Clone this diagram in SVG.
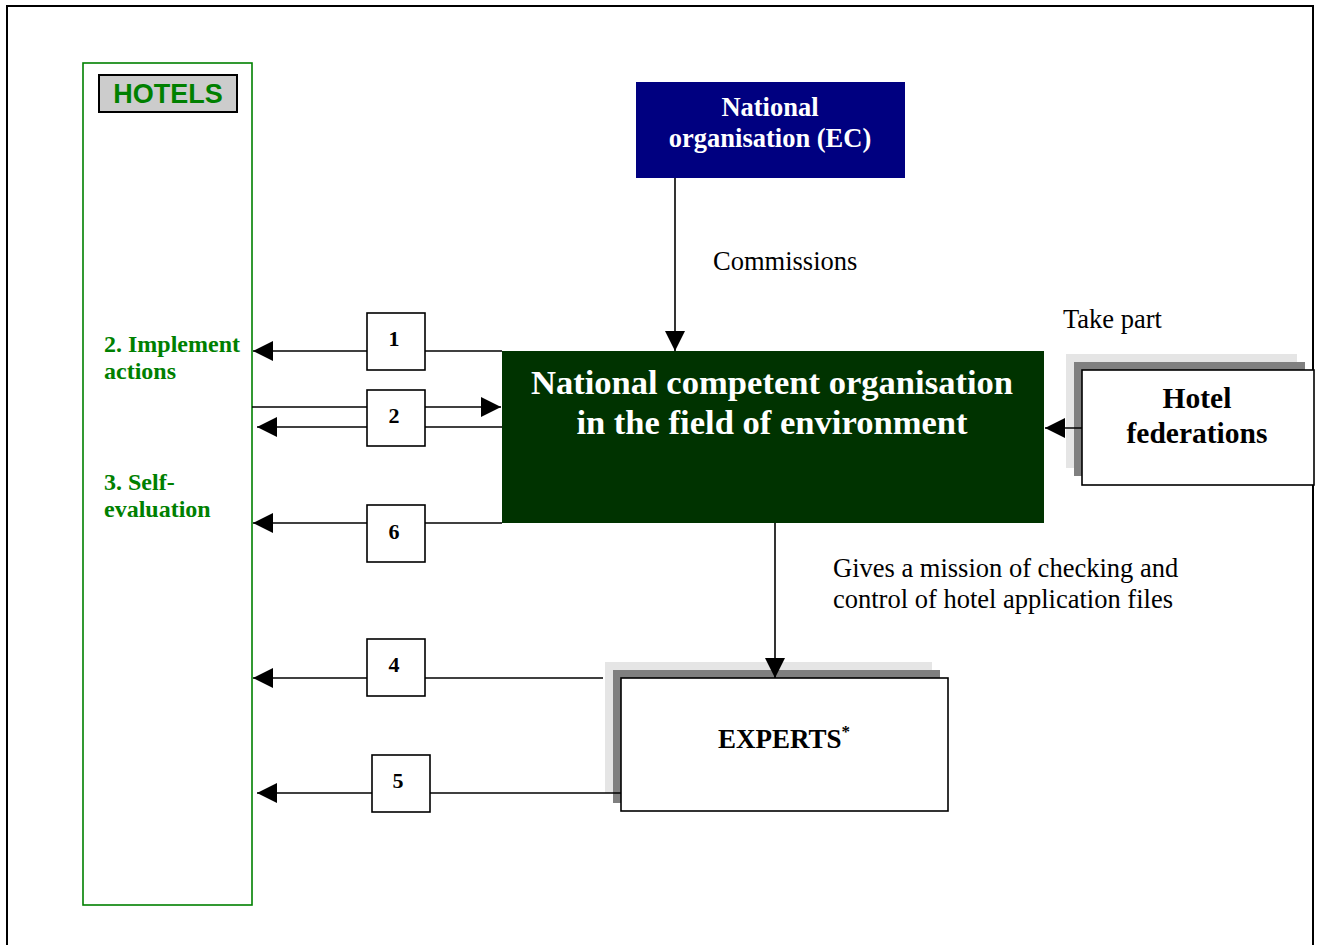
<svg xmlns="http://www.w3.org/2000/svg" width="1317" height="945" viewBox="0 0 1317 945">
<defs>
<marker id="arr" markerUnits="userSpaceOnUse" markerWidth="20" markerHeight="20" refX="20" refY="10" orient="auto">
<path d="M0,0 L20,10 L0,20 Z" fill="#000"/>
</marker>
<style>
.ln{stroke:#000;stroke-width:1.6;fill:none}
.nb{fill:#fff;stroke:#000;stroke-width:1.6}
.num{font-family:"Liberation Serif",serif;font-weight:bold;font-size:22px;text-anchor:middle;fill:#000}
.lbl{font-family:"Liberation Serif",serif;font-size:26.5px;fill:#000}
.grn{font-family:"Liberation Serif",serif;font-weight:bold;font-size:24px;fill:#008000}
.wt{font-family:"Liberation Serif",serif;font-weight:bold;fill:#fff;text-anchor:middle}
.bt{font-family:"Liberation Serif",serif;font-weight:bold;fill:#000;text-anchor:middle}
</style>
</defs>
<rect x="0" y="0" width="1317" height="945" fill="#fff"/>
<rect x="7" y="6" width="1306" height="960" fill="none" stroke="#000" stroke-width="2"/>

<g id="hotels">
<rect x="83" y="63" width="169" height="842" fill="#fff" stroke="#008000" stroke-width="1.6"/>
<rect x="99" y="75" width="138" height="37" fill="#ccc" stroke="#000" stroke-width="2"/>
<text x="168" y="103" font-family="Liberation Sans, Arial, sans-serif" font-weight="bold" font-size="27" fill="#008000" text-anchor="middle">HOTELS</text>
<text class="grn" x="104" y="352">2. Implement</text>
<text class="grn" x="104" y="379">actions</text>
<text class="grn" x="104" y="490">3. Self-</text>
<text class="grn" x="104" y="517">evaluation</text>
</g>

<g id="national-ec">
<rect x="636" y="82" width="269" height="96" fill="#000080"/>
<text class="wt" x="770" y="116" font-size="26.5">National</text>
<text class="wt" x="770" y="147" font-size="26.5">organisation (EC)</text>
</g>

<g id="competent">
<rect x="502" y="351" width="542" height="172" fill="#003300"/>
<text class="wt" x="772" y="394" font-size="34.6">National competent organisation</text>
<text class="wt" x="772" y="434" font-size="34.6">in the field of environment</text>
</g>

<g id="federations">
<rect x="1066" y="354" width="231" height="114" fill="#e5e5e5"/>
<rect x="1074" y="362" width="231" height="114" fill="#808080"/>
<rect x="1082" y="370" width="232" height="115" fill="#fff" stroke="#000" stroke-width="1.6"/>
<text class="bt" x="1197" y="408" font-size="29.5">Hotel</text>
<text class="bt" x="1197" y="443" font-size="29.5">federations</text>
</g>

<g id="experts">
<rect x="605" y="662" width="327" height="131" fill="#e5e5e5"/>
<rect x="613" y="670" width="327" height="133" fill="#808080"/>
<rect x="621" y="678" width="327" height="133" fill="#fff" stroke="#000" stroke-width="1.6"/>
<text class="bt" x="784" y="748" font-size="27">EXPERTS<tspan font-size="17" dy="-11">*</tspan></text>
</g>

<g id="connectors">
<line class="ln" x1="675" y1="178" x2="675" y2="351" marker-end="url(#arr)"/>
<line class="ln" x1="775" y1="523" x2="775" y2="678" marker-end="url(#arr)"/>
<line class="ln" x1="1082" y1="428" x2="1045" y2="428" marker-end="url(#arr)"/>
<line class="ln" x1="502" y1="351" x2="253" y2="351" marker-end="url(#arr)"/>
<line class="ln" x1="252" y1="407" x2="501" y2="407" marker-end="url(#arr)"/>
<line class="ln" x1="502" y1="427" x2="257" y2="427" marker-end="url(#arr)"/>
<line class="ln" x1="502" y1="523" x2="253" y2="523" marker-end="url(#arr)"/>
<line class="ln" x1="603" y1="678" x2="253" y2="678" marker-end="url(#arr)"/>
<line class="ln" x1="621" y1="793" x2="257" y2="793" marker-end="url(#arr)"/>
</g>

<g id="box1"><rect class="nb" x="367" y="313" width="58" height="57"/><text class="num" x="394" y="346">1</text></g>
<g id="box2"><rect class="nb" x="367" y="390" width="58" height="56"/><text class="num" x="394" y="423">2</text></g>
<g id="box6"><rect class="nb" x="367" y="505" width="58" height="57"/><text class="num" x="394" y="539">6</text></g>
<g id="box4"><rect class="nb" x="367" y="639" width="58" height="57"/><text class="num" x="394" y="672">4</text></g>
<g id="box5"><rect class="nb" x="372" y="755" width="58" height="57"/><text class="num" x="398" y="788">5</text></g>

<g id="labels">
<text class="lbl" x="713" y="270">Commissions</text>
<text class="lbl" x="1063" y="328">Take part</text>
<text class="lbl" x="833" y="577">Gives a mission of checking and</text>
<text class="lbl" x="833" y="608">control of hotel application files</text>
</g>
</svg>
